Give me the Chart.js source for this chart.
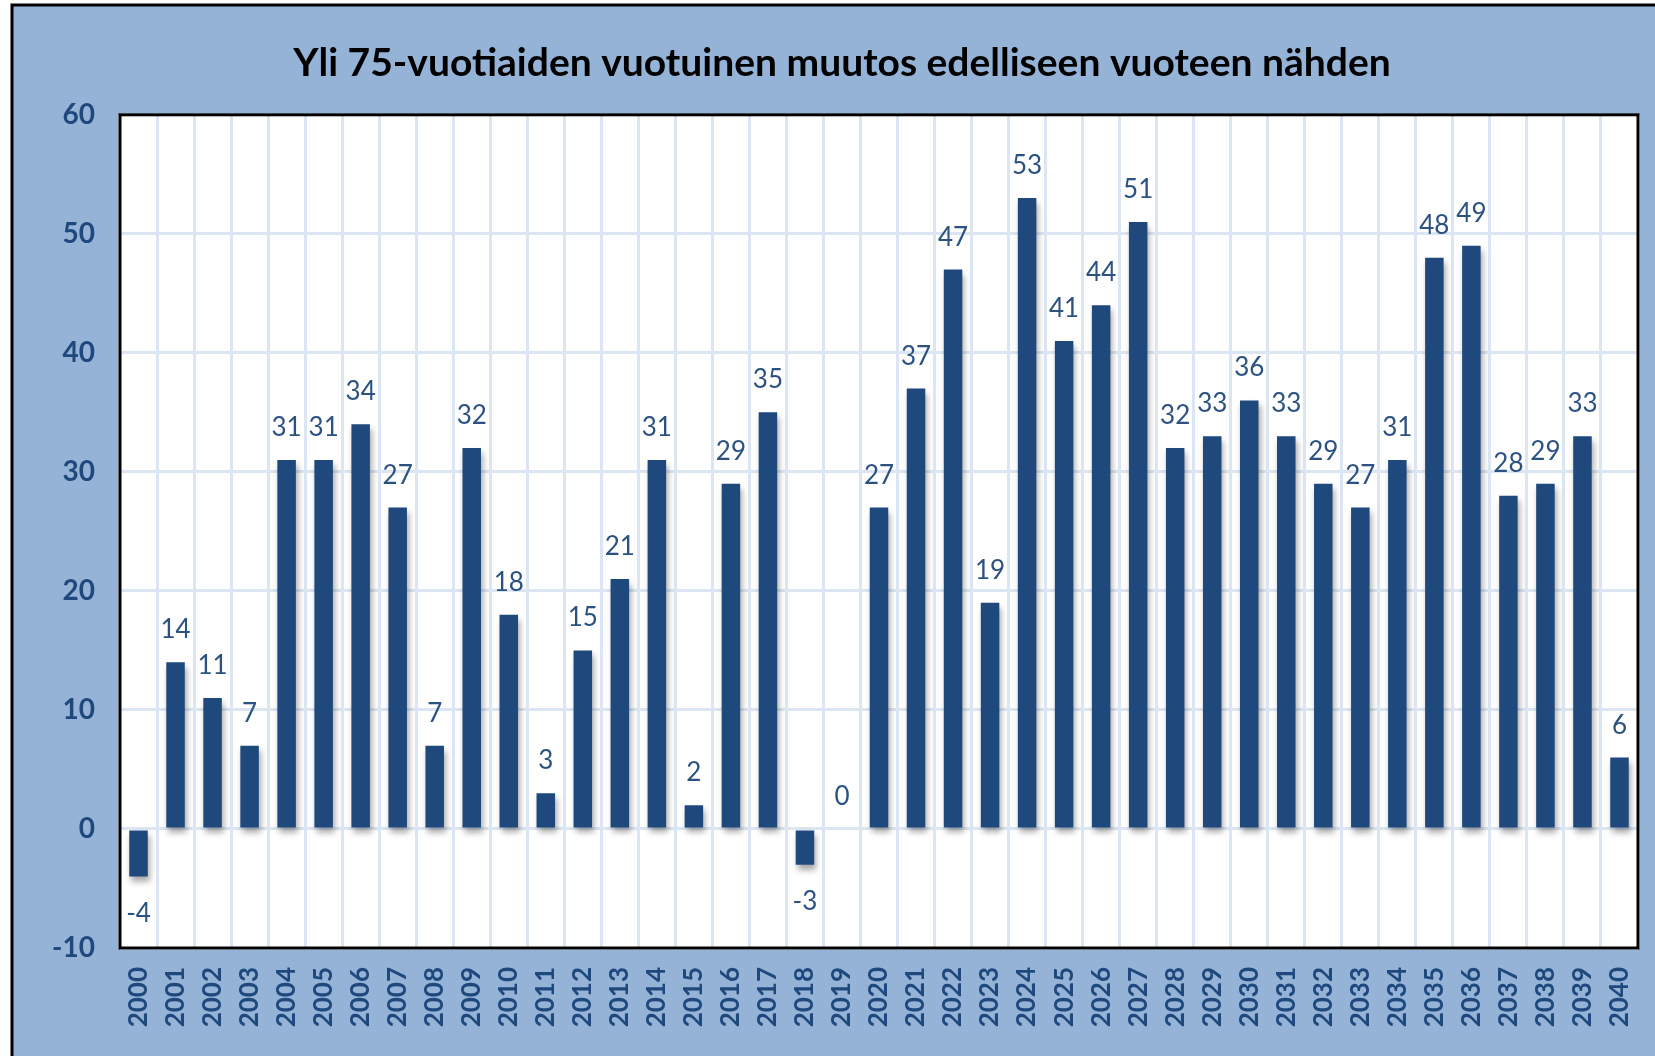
<!DOCTYPE html>
<html>
<head>
<meta charset="utf-8">
<script src="https://cdn.jsdelivr.net/npm/chart.js@4/dist/chart.umd.min.js"></script>
<style>
  html, body { margin: 0; padding: 0; background: #ffffff; }
  canvas { display: block; }
</style>
</head>
<body>
<canvas id="chart" width="1655" height="1056"></canvas>
<script>
// vuodet ja muutokset
const years = [
  '2000', '2001', '2002', '2003', '2004', '2005', '2006', '2007', '2008', '2009',
  '2010', '2011', '2012', '2013', '2014', '2015', '2016', '2017', '2018', '2019',
  '2020', '2021', '2022', '2023', '2024', '2025', '2026', '2027', '2028', '2029',
  '2030', '2031', '2032', '2033', '2034', '2035', '2036', '2037', '2038', '2039', '2040'
];
const changes = [
  -4, 14, 11, 7, 31, 31, 34, 27, 7, 32,
  18, 3, 15, 21, 31, 2, 29, 35, -3, 0,
  27, 37, 47, 19, 53, 41, 44, 51, 32, 33,
  36, 33, 29, 27, 31, 48, 49, 28, 29, 33, 6
];
const yTicks = [-10, 0, 10, 20, 30, 40, 50, 60];
const titleText = 'Yli 75-vuotiaiden vuotuinen muutos edelliseen vuoteen nähden';

const BG = '#95b3d7';
const BAR = '#1f497d';
const GRID = '#dce6f2';
const TEXT = '#1f497d';

// tausta, kehys ja varjot
const framePlugin = {
  id: 'frame',
  beforeDraw(chart) {
    const ctx = chart.ctx;
    const a = chart.chartArea;
    ctx.save();
    ctx.fillStyle = '#ffffff';
    ctx.fillRect(0, 0, chart.width, chart.height);
    ctx.fillStyle = BG;
    ctx.fillRect(12, 5, chart.width - 12, chart.height - 5);
    ctx.strokeStyle = '#000000';
    ctx.lineWidth = 3;
    ctx.beginPath();
    ctx.moveTo(12, chart.height);
    ctx.lineTo(12, 5);
    ctx.lineTo(chart.width, 5);
    ctx.stroke();
    ctx.fillStyle = '#ffffff';
    ctx.fillRect(a.left, a.top, a.right - a.left, a.bottom - a.top);
    ctx.restore();
  },
  beforeDatasetDraw(chart) {
    const ctx = chart.ctx;
    ctx.save();
    ctx.shadowColor = 'rgba(0,0,0,0.35)';
    ctx.shadowBlur = 6;
    ctx.shadowOffsetX = 2;
    ctx.shadowOffsetY = 5;
  },
  afterDatasetDraw(chart) {
    chart.ctx.restore();
  },
  afterDraw(chart) {
    const ctx = chart.ctx;
    const a = chart.chartArea;
    ctx.save();
    ctx.strokeStyle = '#000000';
    ctx.lineWidth = 3;
    ctx.strokeRect(a.left, a.top, a.right - a.left, a.bottom - a.top);
    ctx.restore();
  }
};

// arvot pylväiden päälle
const valueLabels = {
  id: 'valueLabels',
  afterDatasetsDraw(chart) {
    const ctx = chart.ctx;
    const meta = chart.getDatasetMeta(0);
    ctx.save();
    ctx.font = '26px Lato';
    ctx.fillStyle = '#2c5282';
    ctx.textAlign = 'center';
    meta.data.forEach((bar, i) => {
      const v = changes[i];
      if (v < 0) {
        ctx.textBaseline = 'top';
        ctx.fillText(String(v), bar.x, bar.y + 24);
      } else {
        ctx.textBaseline = 'alphabetic';
        ctx.fillText(String(v), bar.x, bar.y - 24);
      }
    });
    ctx.restore();
  }
};

new Chart(document.getElementById('chart'), {
  type: 'bar',
  data: {
    labels: years,
    datasets: [{
      data: changes,
      backgroundColor: BAR,
      borderWidth: 0,
      barPercentage: 0.5,
      categoryPercentage: 1.0
    }]
  },
  options: {
    responsive: false,
    animation: false,
    layout: { padding: { left: 46, right: 17, top: 20, bottom: 0 } },
    plugins: {
      legend: { display: false },
      tooltip: { enabled: false },
      title: {
        display: true,
        text: titleText,
        color: '#000000',
        font: { family: 'Lato', size: 39, weight: 'bold', lineHeight: 1.2 },
        padding: { top: 20, bottom: 28 }
      }
    },
    scales: {
      x: {
        grid: { color: GRID, lineWidth: 3, drawTicks: false },
        border: { display: false },
        ticks: {
          color: TEXT,
          font: { family: 'Lato', size: 26, weight: 'bold' },
          minRotation: 90,
          maxRotation: 90,
          autoSkip: false,
          padding: 19
        },
        afterFit(scale) {
          scale.height = 108;
          scale.paddingLeft = 0;
          scale.paddingRight = 0;
        }
      },
      y: {
        min: -10,
        max: 60,
        grid: { color: GRID, lineWidth: 3, drawTicks: false },
        border: { display: false },
        afterBuildTicks(scale) { scale.ticks = yTicks.map(v => ({ value: v })); },
        ticks: {
          color: TEXT,
          font: { family: 'Lato', size: 28, weight: 'bold' },
          padding: 25
        },
        afterFit(scale) { scale.width = 74; }
      }
    }
  },
  plugins: [framePlugin, valueLabels]
});
</script>
</body>
</html>
